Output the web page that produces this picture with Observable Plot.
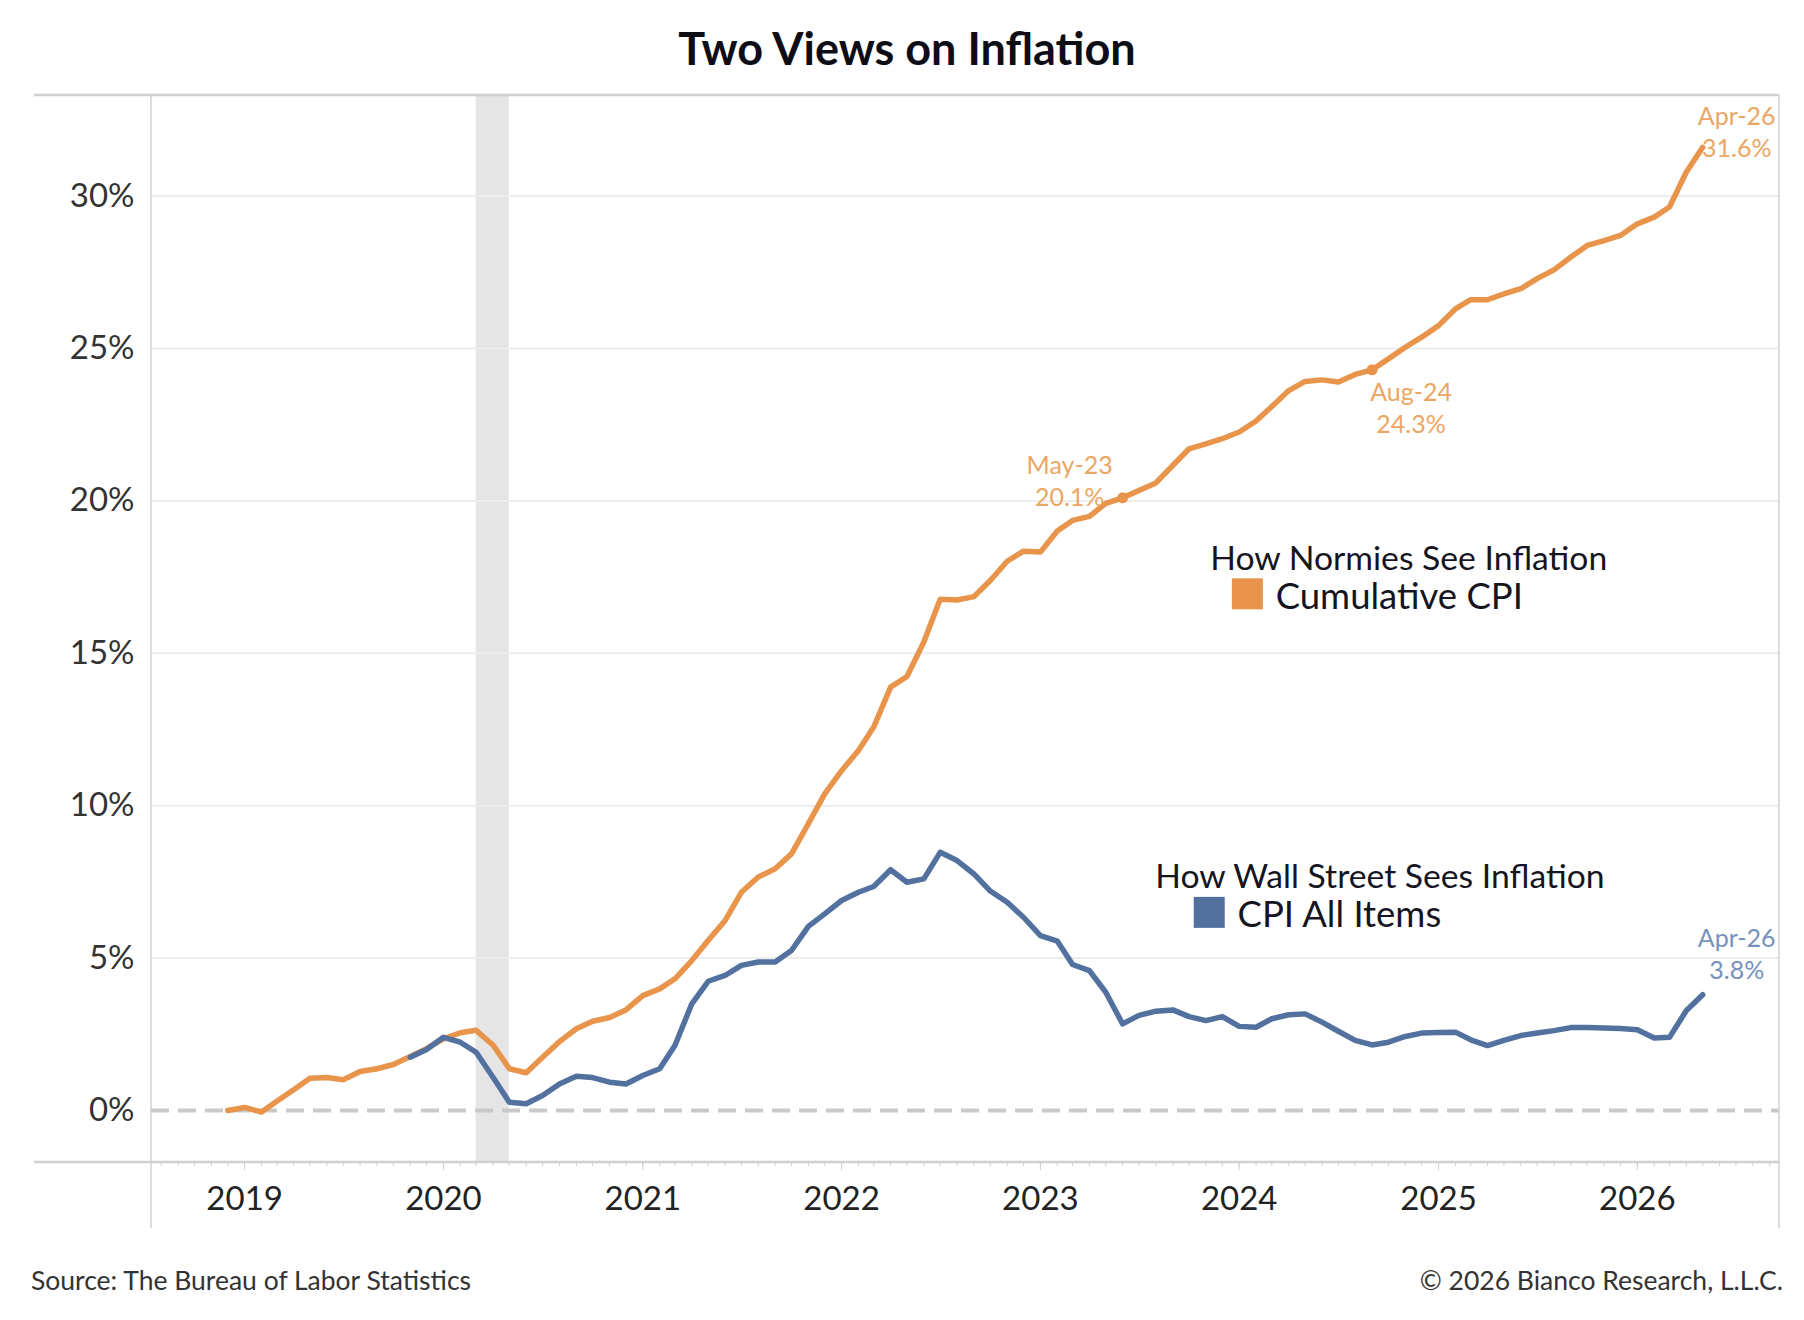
<!DOCTYPE html>
<html>
<head>
<meta charset="utf-8">
<script src="https://cdn.jsdelivr.net/npm/d3@7"></script>
<script src="https://cdn.jsdelivr.net/npm/@observablehq/plot@0.6"></script>
<style>
  body { margin: 0; background: #fff; font-family: Lato, "Open Sans", sans-serif; }
  #page { width: 1804px; }
  #title {
    height: 88px; box-sizing: border-box; padding: 22px 0 0 10px;
    text-align: center; font-weight: 700; font-size: 45px; line-height: 52px; color: #0d0d16;
  }
  #chart svg { display: block; }
  #footer {
    display: flex; justify-content: space-between;
    padding: 17px 21px 0 31px; font-size: 26.5px; line-height: 30px; color: #333;
  }
</style>
</head>
<body>
<div id="page">
  <div id="title">Two Views on Inflation</div>
  <div id="chart"></div>
  <div id="footer"><span>Source: The Bureau of Labor Statistics</span><span>© 2026 Bianco Research, L.L.C.</span></div>
</div>
<script>
// Cumulative CPI since Nov 2018, monthly (%)
const CUM_START = "2018-11";
const cumulativeCpi = [
  0.0, 0.1, -0.05, 0.3, 0.68, 1.06, 1.08, 1.01, 1.28, 1.37, 1.51, 1.77, 2.03, 2.35,   // Nov18..Dec19
  2.55, 2.63, 2.15, 1.37, 1.24, 1.75, 2.26, 2.68, 2.93, 3.05, 3.3, 3.77,             // 2020
  3.99, 4.32, 4.92, 5.58, 6.23, 7.16, 7.66, 7.93, 8.42, 9.41, 10.39, 11.15,          // 2021
  11.81, 12.58, 13.89, 14.24, 15.37, 16.77, 16.75, 16.86, 17.39, 18.02, 18.35, 18.32, // 2022
  19.01, 19.36, 19.49, 19.92, 20.1, 20.34, 20.59, 21.16, 21.71, 21.87, 22.04, 22.26,  // 2023
  22.62, 23.1, 23.62, 23.92, 23.97, 23.9, 24.15, 24.3, 24.66, 25.04, 25.37, 25.75,    // 2024
  26.3, 26.6, 26.6, 26.79, 26.96, 27.29, 27.58, 28.0, 28.38, 28.54, 28.71, 29.09,     // 2025
  29.31, 29.64, 30.79, 31.6                                                          // 2026
];

// CPI All Items, year over year (%)
const YOY_START = "2019-10";
const cpiAllItems = [
  1.75, 2.0, 2.4,                                                                    // Oct19..Dec19
  2.24, 1.91, 1.09, 0.27, 0.22, 0.49, 0.87, 1.12, 1.08, 0.93, 0.87, 1.15,            // 2020
  1.37, 2.13, 3.5, 4.24, 4.43, 4.76, 4.87, 4.87, 5.25, 6.04, 6.45, 6.89,             // 2021
  7.16, 7.35, 7.9, 7.49, 7.6, 8.47, 8.2, 7.76, 7.2, 6.83, 6.34, 5.74,                // 2022
  5.56, 4.79, 4.59, 3.88, 2.84, 3.12, 3.26, 3.3, 3.08, 2.95, 3.08, 2.76,             // 2023
  2.73, 3.01, 3.14, 3.17, 2.9, 2.6, 2.3, 2.15, 2.24, 2.43, 2.54, 2.56,               // 2024
  2.57, 2.32, 2.13, 2.3, 2.46, 2.54, 2.62, 2.72, 2.72, 2.71, 2.69, 2.65,             // 2025
  2.38, 2.4, 3.28, 3.8                                                               // 2026
];

const recessions = [{ start: "2020-02", end: "2020-04" }];
const markedMonths = ["2023-05", "2024-08"];
const yTicks = [0, 5, 10, 15, 20, 25, 30];
const yearTicks = ["2019", "2020", "2021", "2022", "2023", "2024", "2025", "2026"];

const ORANGE = "#e8944a";
const ORANGE_TEXT = "#eca664";
const BLUE = "#52719f";
const BLUE_TEXT = "#7791bd";
const INK = "#15151f";
const FRAME = "#d0d0d0";

const parseMonth = d3.utcParse("%Y-%m");
const fmtMonth = d3.utcFormat("%b-%y");
// a monthly reading is drawn at its month end (first day of the next month)
const monthEnd = (m) => d3.utcMonth.offset(parseMonth(m), 1);

function toSeries(start, values) {
  return values.map((v, i) => {
    const month = d3.utcMonth.offset(parseMonth(start), i);
    return { month, date: d3.utcMonth.offset(month, 1), value: v };
  });
}

const cum = toSeries(CUM_START, cumulativeCpi);
const yoy = toSeries(YOY_START, cpiAllItems);
const byMonth = (s, m) => s.find((d) => +d.month === +parseMonth(m));
const calloutText = (d) => `${fmtMonth(d.month)}\n${d.value.toFixed(1)}%`;

const W = 1804, H = 1160;
const M = { top: 7, right: 25, bottom: 86, left: 151 };
const yDomain = [-1.706, 33.3];

function callout(d, dx, dy, fill) {
  return Plot.text([d], {
    x: "date", y: "value", text: calloutText, dx, dy,
    fill, fontSize: 25, lineHeight: 1.28, textAnchor: "middle",
  });
}

function legendLabel(label, x, y, fontSize) {
  return Plot.text([label], { x, y, text: (d) => d, textAnchor: "start", fontSize, fill: INK });
}

const plot = Plot.plot({
  width: W,
  height: H,
  marginTop: M.top,
  marginRight: M.right,
  marginBottom: M.bottom,
  marginLeft: M.left,
  style: { fontFamily: "Lato, sans-serif", background: "#fff", overflow: "visible" },
  x: { type: "utc", domain: [new Date("2018-07-14"), new Date("2026-09-19")], label: null },
  y: { domain: yDomain, label: null },
  marks: [
    Plot.rect(recessions, {
      x1: (d) => monthEnd(d.start), x2: (d) => monthEnd(d.end),
      y1: yDomain[0], y2: yDomain[1], fill: "#e5e5e5",
    }),
    Plot.ruleY(yTicks.filter((t) => t > 0), { stroke: "#ededed", strokeWidth: 2 }),
    Plot.ruleY([0], { stroke: "#c9c9c9", strokeWidth: 4, strokeDasharray: "18 9" }),

    Plot.axisY(yTicks, {
      tickSize: 0, tickPadding: 17, fontSize: 33, fill: "#333",
      tickFormat: (d) => `${d}%`,
    }),
    Plot.axisX(d3.utcMonth.range(new Date("2018-08-01"), new Date("2026-09-19")), {
      tickSize: 4, fill: "none", stroke: "#cfcfcf",
    }),
    Plot.axisX(yearTicks.map((y) => d3.utcParse("%Y")(y)), {
      tickSize: 8, tickPadding: 16, fontSize: 33, fill: "#222", stroke: "#cfcfcf",
      tickFormat: d3.utcFormat("%Y"),
    }),

    Plot.line(cum, { x: "date", y: "value", stroke: ORANGE, strokeWidth: 5.5, strokeLinejoin: "round" }),
    Plot.line(yoy, { x: "date", y: "value", stroke: BLUE, strokeWidth: 5.5, strokeLinejoin: "round" }),
    Plot.dot(markedMonths.map((m) => byMonth(cum, m)), { x: "date", y: "value", r: 5.5, fill: ORANGE }),

    callout(byMonth(cum, "2023-05"), -53, -18, ORANGE_TEXT),
    callout(byMonth(cum, "2024-08"), 39, 37, ORANGE_TEXT),
    callout(cum[cum.length - 1], 34, -17, ORANGE_TEXT),
    callout(yoy[yoy.length - 1], 34, -42, BLUE_TEXT),

    // in-chart legends
    legendLabel("How Normies See Inflation", new Date("2023-11-09"), 18.1, 33.7),
    Plot.dot([0], { x: new Date("2024-01-16"), y: 16.95, symbol: "square", r: 17.5, fill: ORANGE }),
    legendLabel("Cumulative CPI", new Date("2024-03-08"), 16.85, 36.5),
    legendLabel("How Wall Street Sees Inflation", new Date("2023-07-31"), 7.65, 33.7),
    Plot.dot([0], { x: new Date("2023-11-07"), y: 6.5, symbol: "square", r: 17.5, fill: BLUE }),
    legendLabel("CPI All Items", new Date("2023-12-29"), 6.4, 36.5),
  ],
});

// frame: top/bottom rules run out under the y labels, side rules down past the x labels
const svg = d3.select(plot);
const frame = svg.append("g").attr("stroke", FRAME).attr("fill", "none");
const fl = M.left, fr = W - M.right, ft = M.top, fb = H - M.bottom;
frame.append("line").attr("x1", 34).attr("x2", fr).attr("y1", ft).attr("y2", ft).attr("stroke-width", 2.5);
frame.append("line").attr("x1", 34).attr("x2", fr).attr("y1", fb).attr("y2", fb).attr("stroke-width", 2.5);
frame.append("line").attr("x1", fl).attr("x2", fl).attr("y1", ft).attr("y2", fb + 66).attr("stroke-width", 1.5);
frame.append("line").attr("x1", fr).attr("x2", fr).attr("y1", ft).attr("y2", fb + 66).attr("stroke-width", 1.5);

document.getElementById("chart").appendChild(plot);
</script>
</body>
</html>
